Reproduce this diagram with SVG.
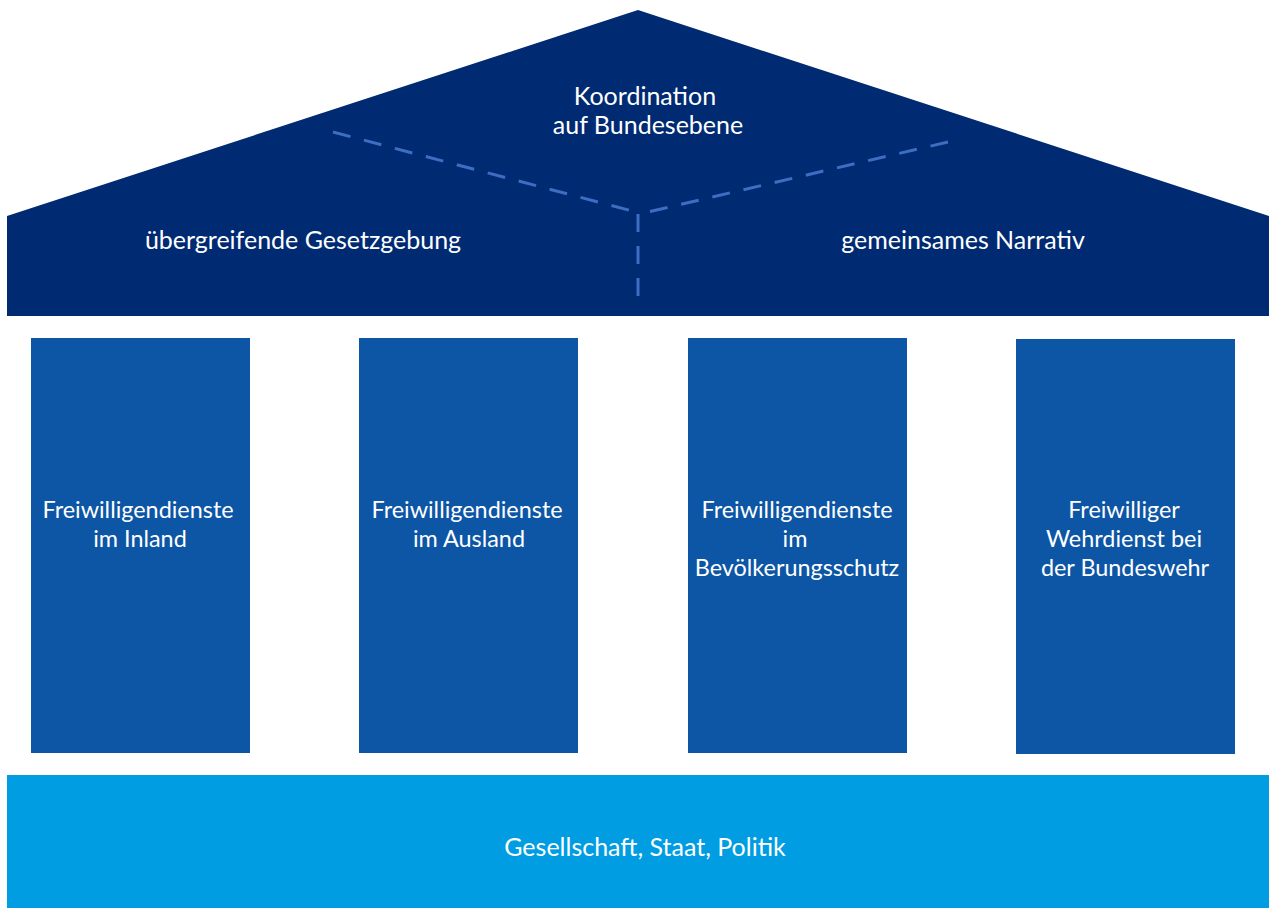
<svg xmlns="http://www.w3.org/2000/svg" width="1269" height="908" viewBox="0 0 1269 908">
<style>
.t{font-family:Lato,"Open Sans","Liberation Sans",sans-serif;font-size:25px;fill:#ffffff;text-anchor:middle}
.c{font-size:23.4px}
.col{fill:#0d55a5}
.dash{stroke:#3e6ec1;stroke-width:3;stroke-dasharray:18 14;fill:none}
</style>
<rect width="1269" height="908" fill="#ffffff"/>
<g id="roof">
<polygon points="638,10 1269,216 1269,316 7,316 7,216" fill="#002a72"/>
<text class="t" x="645" y="105">Koordination</text>
<text class="t" x="648" y="134">auf Bundesebene</text>
<text class="t" x="303" y="249">übergreifende Gesetzgebung</text>
<text class="t" x="963" y="249">gemeinsames Narrativ</text>
</g>
<g id="connectors">
<line class="dash" x1="333" y1="132" x2="636" y2="212"/>
<line class="dash" x1="948" y1="142" x2="648" y2="212"/>
<line class="dash" x1="638" y1="214" x2="638" y2="296"/>
</g>
<g id="col1">
<rect class="col" x="31" y="338" width="219" height="415"/>
<text class="t c" x="138" y="518">Freiwilligendienste</text>
<text class="t c" x="140" y="547">im Inland</text>
</g>
<g id="col2">
<rect class="col" x="359" y="338" width="219" height="415"/>
<text class="t c" x="467" y="518">Freiwilligendienste</text>
<text class="t c" x="469" y="547">im Ausland</text>
</g>
<g id="col3">
<rect class="col" x="688" y="338" width="219" height="415"/>
<text class="t c" x="797" y="518">Freiwilligendienste</text>
<text class="t c" x="795" y="547">im</text>
<text class="t c" x="797" y="576">Bevölkerungsschutz</text>
</g>
<g id="col4">
<rect class="col" x="1016" y="339" width="219" height="415"/>
<text class="t c" x="1124" y="518">Freiwilliger</text>
<text class="t c" x="1124" y="547">Wehrdienst bei</text>
<text class="t c" x="1125" y="576">der Bundeswehr</text>
</g>
<g id="base">
<rect x="7" y="775" width="1262" height="133" fill="#009de3"/>
<text class="t" x="645" y="856">Gesellschaft, Staat, Politik</text>
</g>
</svg>
